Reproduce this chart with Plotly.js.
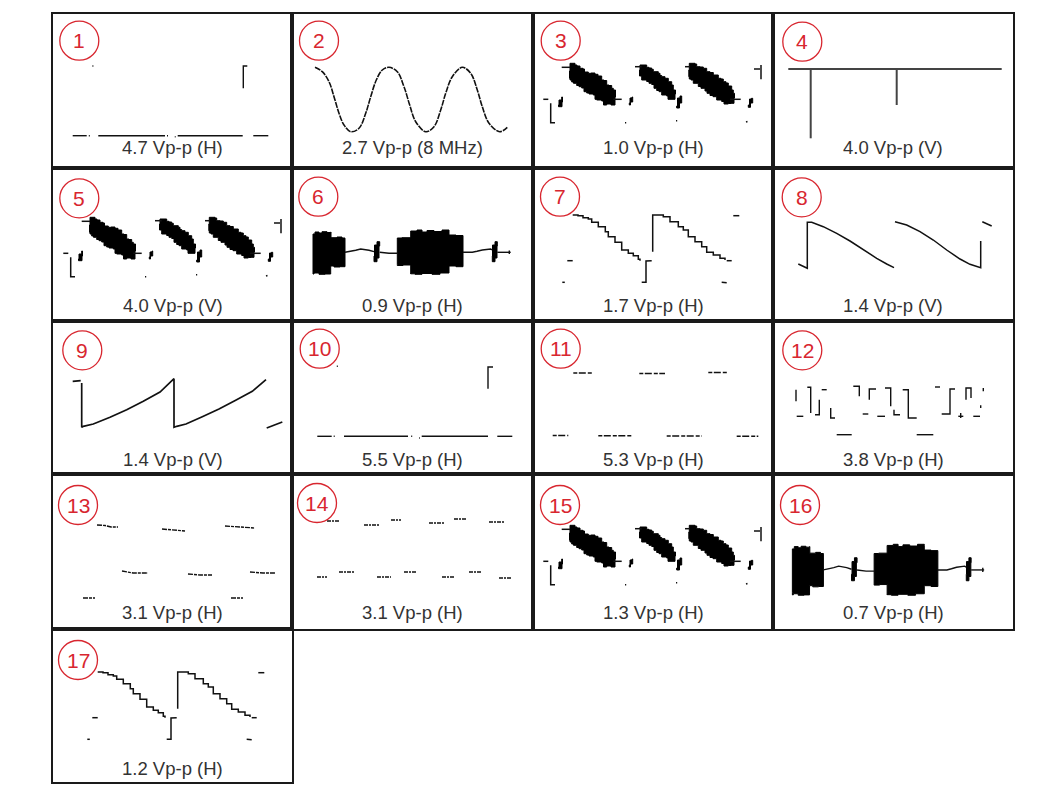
<!DOCTYPE html>
<html>
<head>
<meta charset="utf-8">
<script src="https://cdn.plot.ly/plotly-3.0.1.min.js"></script>
<style>
body { margin: 0; background: #fff; }
#graph { width: 1038px; height: 797px; }
</style>
</head>
<body>
<div id="graph"></div>
<script>
// captions under each trace
var panelLabels = ['4.7 Vp-p (H)', '2.7 Vp-p (8 MHz)', '1.0 Vp-p (H)', '4.0 Vp-p (V)',
    '4.0 Vp-p (V)', '0.9 Vp-p (H)', '1.7 Vp-p (H)', '1.4 Vp-p (V)',
    '1.4 Vp-p (V)', '5.5 Vp-p (H)', '5.3 Vp-p (H)', '3.8 Vp-p (H)',
    '3.1 Vp-p (H)', '3.1 Vp-p (H)', '1.3 Vp-p (H)', '0.7 Vp-p (H)',
    '1.2 Vp-p (H)'];

// traces (x,y inside each frame, y downwards)
var p1Segs = [
    [[19.7,121.7],[33.7,121.7]], [[35.8,121.7],[36.8,121.7]], [[45.3,121.7],[112,121.7]],
    [[114,121.7],[115,121.7]], [[121.8,122.8],[122.6,122.8]], [[124.7,121.7],[189.7,121.7]],
    [[190.3,74.3],[190.3,52],[194.3,52]], [[200.3,121.7],[215.3,121.7]], [[39.4,52],[40.4,52]]
];
var p2WaveX = [23,30.3,37,42,47,52,58.7,67,73.7,78.7,84.3,90.3,97,105.3,112,117.7,123.7,133.7,142,148.7,153.7,160.3,170.3,178.7,185.3,190.3,197,207.7,215.3];
var p2WaveY = [53.3,57.7,67.7,82.7,99.3,111,117.7,114.3,99.3,82.7,66,56,53.3,57.7,72.7,91,107.7,117.7,112.7,96,79.3,62.7,53.3,59.3,76,92.7,109.3,117.7,113.3];

var p3Blobs = [
    [[37,49.3],[42,49.3],[42,51],[44,52],[47,54.3],[50,55],[51.5,58],[55.3,59.3],[58,59],[62,61],[62,60.3],[65,62],[68.7,66],[71,66.5],
     [73.7,71],[76,71.5],[78.7,74.3],[80.3,76],[82,76],[82.5,83],[82,91],[78,90],[73.7,91],[70.5,87],[68.7,86],[63.7,85.3],[62,81],
     [60.3,80],[56,79],[53.7,77.7],[51,74],[48.7,72.7],[46,71.5],[43.7,69.3],[40.5,68],[38.7,66],[37,64.3],[36.5,57],[37,49.3]],
    [[107,51],[112,51],[113.7,53.3],[116,54],[118.7,55.3],[120.3,57.7],[125.3,59.3],[127,61.5],[128.7,62.7],[132,64.3],[135.3,67.7],
     [138.7,71],[140.3,76],[142,76],[142.5,80],[142,85.3],[137,85.3],[135,82],[133.7,81],[128.7,77.7],[126,76.5],[123.7,74.3],[121,70.5],
     [118.7,69.3],[116,67.5],[113.7,66],[108.7,62],[107,62],[106.5,56],[107,51]],
    [[156.3,49.3],[162,50],[163.7,52.7],[167,53],[170.3,54.3],[173.7,57.7],[177,58.5],[180.3,61],[185.3,64.3],[188,65],[190.3,67.7],
     [193,69],[195.3,72],[198.7,76],[200.3,79.3],[201,79.3],[201.5,84],[201,89.3],[198,89.5],[195.3,90],[191,87.5],[188.7,86],[183.7,82.7],
     [180,81.5],[177,79.3],[174,77],[172,74.3],[168,72.5],[165.3,69.3],[160.3,66],[158,65],[156.3,62.7],[155.8,56],[156.3,49.3]]
];
var p3Bursts = [
    [[26,86],[28.7,83],[29.5,88],[29,92.7],[25.5,91],[26,86]],
    [[97,84],[99,83],[99.7,88],[97.5,91],[96.3,89],[97,84]],
    [[144.5,84],[147,82],[148.7,89],[146.5,94],[143.7,92],[144.5,84]],
    [[216.5,85],[218.5,84.3],[219.7,89],[217.5,93.3],[215.3,91],[216.5,85]]
];
var p3Segs = [
    [[28.7,53.3],[37,53.3]], [[80.3,85.3],[88.7,85.3]], [[102,52.7],[108.7,52.7]], [[152,52.7],[157,52.7]],
    [[197,85.3],[207.7,85.3]], [[10.3,85.3],[15.3,85.3]], [[17.7,89.3],[17.7,108.7],[22,108.7]],
    [[92,108.7],[93.2,108.7]], [[143,106.7],[144.2,106.7]], [[213,108],[214.5,107.5]],
    [[221,55],[227,55]], [[228,51],[228,65.3]]
];

var p4Segs = [[[15.3,55],[228.7,55]], [[37.7,55],[37.7,124.3]], [[123.7,55],[123.7,91]]];

var p6Blobs = [
    [[21,66],[23,64],[27,65],[30,63.7],[35,64.5],[38.7,64],[39,69.7],[45,69],[50,70],[53,70.5],
     [53,98.7],[48,99],[42,98],[38.7,100],[38.7,106],[33,106.3],[27,105],[22,106],[21,104],[21,66]],
    [[105.3,70],[110,69.7],[118.7,70],[118.7,63],[125,62],[130,64],[135,62.5],[142,63.5],[150,62],[157,63],[157,67],[164,67.5],[171,68],
     [171,98.7],[164,98],[157,99],[157,105],[148,106.3],[140,105.5],[130,106.3],[123,105.8],[118.7,106],[118.7,97],[111,97.5],[105.3,96.5],[105.3,70]],
    [[82.5,77],[85,73.7],[87.7,78],[87,90],[85,93.7],[82,88],[82.5,77]],
    [[200.5,77],[203,73.7],[205.3,78],[205,90],[203,93.7],[200.3,88],[200.5,77]]
];
var p6Segs = [
    [[53,84.3],[58,83.5],[63.7,82.3],[68.7,81],[73,81.5],[77,82.3],[82,83.7]],
    [[87.7,84.3],[92,85],[97,85.3],[105.3,85.3]],
    [[171,84.3],[180.3,84.3],[185,83.3],[190.3,82],[198.7,81],[200.3,82]],
    [[205.3,84.3],[218.7,84.3]], [[217.3,82.5],[217.3,86]]
];

var p7Stairs = [
    [[39.7,47],[45,47.7],[50,49.7],[55.3,51],[58.7,54.3],[65.3,58.7],[72.3,63.7],[75.3,68.7],[82,74.3],[88.7,82],[95.3,85.3],[100.3,87.7],[105.3,91.3],[107,92.7]],
    [[127,47],[130.3,48.7],[137,53.7],[145.3,58.7],[150.3,62],[155.3,68.7],[162,73.7],[168.7,78.7],[173.7,84.3],[180.3,87],[187,90.3],[192,92]]
];
var p7Segs = [
    [[34.3,92.7],[39.7,92.7]], [[29.3,114.3],[31.8,114.3]], [[108.7,114.3],[113,114.3],[113,93],[118.7,92.7]],
    [[119.7,83.7],[119.7,47],[127,47]], [[200.3,47.7],[206.3,47.7]], [[188.7,114.3],[193.7,114.7]], [[193.7,92.7],[198.7,92.7]]
];

var p8Segs = [
    [[25.3,96],[34.3,100.3],[34.3,54.3],[38.7,54.3],[50.3,58.7],[63.7,65.3],[77,73],[90.3,82],[103.7,90.3],[113.7,96],[121,99.7]],
    [[122,53.7],[133.7,57],[147,63.7],[160.3,72],[173.7,82],[187,91],[197,96.3],[207.7,99.7],[207.7,73]],
    [[209.3,53.7],[218.7,58]]
];
var p9Segs = [
    [[19.7,60.3],[27.7,59.7]],
    [[28.7,62],[28.7,106.3],[30.3,105.3],[40.3,103],[57,96.3],[73.7,88.7],[90.3,80.3],[107,71],[121,57.7],[121,106.3],
     [123.7,105.3],[133,103],[149.3,95.7],[166,88],[182.7,79.3],[199.3,70.3],[213,58.7]],
    [[213.7,107],[229.3,101]]
];
var p10Segs = [
    [[25.3,115.3],[39.7,115.3]], [[41.7,115.3],[42.7,115.3]], [[52,115.3],[116,115.3]], [[119.2,115.3],[120.2,115.3]],
    [[127.2,117],[128,117]], [[129.7,115.3],[196,115.3]], [[196,67.7],[196,46],[201,46]],
    [[205.3,115.3],[220.3,115.3]], [[44.8,45.3],[45.8,45.3]]
];
var p11Segs = [
    [[40.3,52],[60.3,52]], [[106.3,52.5],[132,52.5]], [[175.3,51.5],[195.3,51.5]],
    [[19.7,114.5],[35.3,114.5]], [[65.3,114.7],[99.7,114.7]], [[133.7,115],[168.7,115]], [[203.7,115.3],[225.3,115.3]]
];
var p12Segs = [
    [[23,68.7],[23,80.3]], [[34.3,66.3],[37.7,66.3],[37.7,92]], [[42,93.7],[46.3,93.7],[46.3,78.7]],
    [[48.7,68.7],[53.7,68.7]], [[57.7,87],[57.7,97],[62,97]], [[23.7,95.3],[30.3,95.3]],
    [[80.3,65.3],[86.3,65.3],[86.3,75.3]], [[89.7,93],[95.3,93]], [[96.3,78.7],[96.3,68],[103,68]],
    [[104.3,95.3],[112,95.3]], [[112,67],[117.7,67],[117.7,85.3]], [[121,88.7],[121,93.7],[127,93.7]],
    [[129.7,68.7],[135.3,68.7],[135.3,97],[143.7,97]], [[162,66],[167,66]],
    [[182,68],[177,68],[177,93],[168.7,93]], [[193,78.7],[193,67],[198,67],[198,77]],
    [[185.3,95.3],[190.3,95.3]], [[187.7,92],[187.7,97]], [[200.3,95.3],[207,95.3]], [[207.7,84.3],[207.7,87]],
    [[210.3,67],[210.3,70.3]], [[63.7,113.7],[78.7,113.7]], [[143.7,113.7],[160.3,113.7]]
];
var p13Segs = [
    [[44,51],[52,51.5],[58,53],[65,53]], [[109,55],[120,56],[132,57]], [[172,52],[185,53],[202,54]],
    [[69,97],[80,99],[95,99]], [[135,100],[147,101],[159,101]], [[197,98],[210,99],[222,99]],
    [[30,124],[42,124]], [[178,124],[190,124]]
];
var p14Segs = [
    [[35,47],[47,47]], [[72,51],[87,51]], [[99,46],[109,46]], [[137,49],[152,49]], [[162,45],[174,45]], [[197,48],[212,48]],
    [[25,103],[35,103]], [[47,98],[62,98]], [[85,103],[99,103]], [[112,98],[124,98]], [[150,103],[162,103]], [[177,98],[190,98]], [[207,104],[219,104]]
];

// frames on the page: [left, right, top, bottom] in px, number circle centre, caption y
var W = 1038, H = 797;
var cols = [[53,292],[292,533],[533,773],[773,1013]];
var rows = [[14,168],[168,321],[321,474],[474,629],[629,782]];
var circleAt = [[26.3,26.7],[27,26.7],[27.7,26.7],[29.3,27.7],[26.3,30.3],[26.3,28.7],[27,28.7],[28.7,29.3],
    [29.3,29.3],[27.7,27.7],[27.7,27.7],[29.3,29.3],[25,31],[25,29],[27,31],[27,31],[25,31]];
var captionY = [134,134,134,134,137,137,137,137,138,138,138,138,138,138,138,138,139];

function flat(segs) {
    var x = [], y = [];
    for (var i = 0; i < segs.length; i++) {
        if (i > 0) { x.push(null); y.push(null); }
        for (var j = 0; j < segs[i].length; j++) {
            x.push(segs[i][j][0]);
            y.push(segs[i][j][1]);
        }
    }
    return {x: x, y: y};
}

function ax(n, c) { return c + (n === 1 ? '' : n); }

function lineTrace(n, segs, width, shape, dash, color) {
    var d = flat(segs);
    return {
        type: 'scatter', mode: 'lines', x: d.x, y: d.y,
        xaxis: ax(n, 'x'), yaxis: ax(n, 'y'),
        line: {color: color || '#111', width: width, shape: shape || 'linear', dash: dash || 'solid'},
        hoverinfo: 'skip', showlegend: false
    };
}

function blobTrace(n, segs) {
    var d = flat(segs);
    return {
        type: 'scatter', mode: 'lines', x: d.x, y: d.y,
        xaxis: ax(n, 'x'), yaxis: ax(n, 'y'),
        fill: 'toself', fillcolor: '#000',
        line: {color: '#000', width: 1, shape: 'hv'},
        hoverinfo: 'skip', showlegend: false
    };
}

var data = [];
data.push(lineTrace(1, p1Segs, 1.4));
data.push({type: 'scatter', mode: 'lines', x: p2WaveX, y: p2WaveY, xaxis: 'x2', yaxis: 'y2',
    line: {color: '#111', width: 1.6, shape: 'spline', dash: '6px,1px'}, hoverinfo: 'skip', showlegend: false});
[3, 5, 15].forEach(function (n) {
    data.push(blobTrace(n, p3Blobs));
    data.push(blobTrace(n, p3Bursts));
    data.push(lineTrace(n, p3Segs, 1.5));
});
data.push(lineTrace(4, p4Segs, 2, null, null, '#444'));
[6, 16].forEach(function (n) {
    data.push(blobTrace(n, p6Blobs));
    data.push(lineTrace(n, p6Segs, 1.4));
});
[7, 17].forEach(function (n) {
    data.push(lineTrace(n, p7Stairs, 1.5, 'hv'));
    data.push(lineTrace(n, p7Segs, 1.5));
});
data.push(lineTrace(8, p8Segs, 1.5));
data.push(lineTrace(9, p9Segs, 1.7));
data.push(lineTrace(10, p10Segs, 1.4));
data.push(lineTrace(11, p11Segs, 1.4, null, '4px,1.5px,7px,2px'));
data.push(lineTrace(12, p12Segs, 1.4));
data.push(lineTrace(13, p13Segs, 1.4, null, '5px,1px,3px,1px'));
data.push(lineTrace(14, p14Segs, 1.4, null, '4px,1px,2px,1px'));

// small shifts for frames that reuse a trace shape
var tweak = {15: {dx: 0, dy: 2, sx: 1, sy: 1}, 16: {dx: -1, dy: -1, sx: 0.97, sy: 1.15}, 17: {dx: 5, dy: -4, sx: 1, sy: 1}};

var layout = {
    width: W, height: H,
    margin: {l: 0, r: 0, t: 0, b: 0},
    paper_bgcolor: '#fff', plot_bgcolor: 'rgba(0,0,0,0)',
    font: {family: 'Liberation Sans, Arial, sans-serif'},
    showlegend: false, hovermode: false,
    shapes: [], annotations: []
};

for (var i = 0; i < 17; i++) {
    var n = i + 1;
    var col = cols[i % 4], row = rows[Math.floor(i / 4)];
    var w = col[1] - col[0], h = row[1] - row[0];
    var t = tweak[n] || {dx: 0, dy: 0, sx: 1, sy: 1};
    var axisStyle = {showgrid: false, zeroline: false, showticklabels: false, ticks: '',
        showline: true, mirror: true, linecolor: '#1a1a1a', linewidth: 1.6, fixedrange: true};
    layout[ax(n, 'xaxis')] = Object.assign({}, axisStyle, {
        domain: [col[0] / W, col[1] / W], anchor: ax(n, 'y'),
        range: [(0 - t.dx) / t.sx, (w - t.dx) / t.sx]
    });
    layout[ax(n, 'yaxis')] = Object.assign({}, axisStyle, {
        domain: [1 - row[1] / H, 1 - row[0] / H], anchor: ax(n, 'x'),
        range: [(h - t.dy) / t.sy, (0 - t.dy) / t.sy]
    });

    var cx = col[0] + circleAt[i][0], cy = row[0] + circleAt[i][1], r = 19.5;
    layout.shapes.push({type: 'circle', xref: 'paper', yref: 'paper',
        x0: (cx - r) / W, x1: (cx + r) / W, y0: 1 - (cy + r) / H, y1: 1 - (cy - r) / H,
        line: {color: '#d8262f', width: 1.3}});
    layout.annotations.push({xref: 'paper', yref: 'paper', x: cx / W, y: 1 - cy / H,
        text: String(n), showarrow: false, xanchor: 'center', yanchor: 'middle',
        font: {size: 21, color: '#d8262f'}});
    layout.annotations.push({xref: 'paper', yref: 'paper', x: (col[0] + w / 2) / W, y: 1 - (row[0] + captionY[i]) / H,
        text: panelLabels[i], showarrow: false, xanchor: 'center', yanchor: 'middle',
        font: {size: 18.5, color: '#333'}});
}

Plotly.newPlot(document.getElementById('graph'), data, layout, {staticPlot: true, displayModeBar: false});
</script>
</body>
</html>
